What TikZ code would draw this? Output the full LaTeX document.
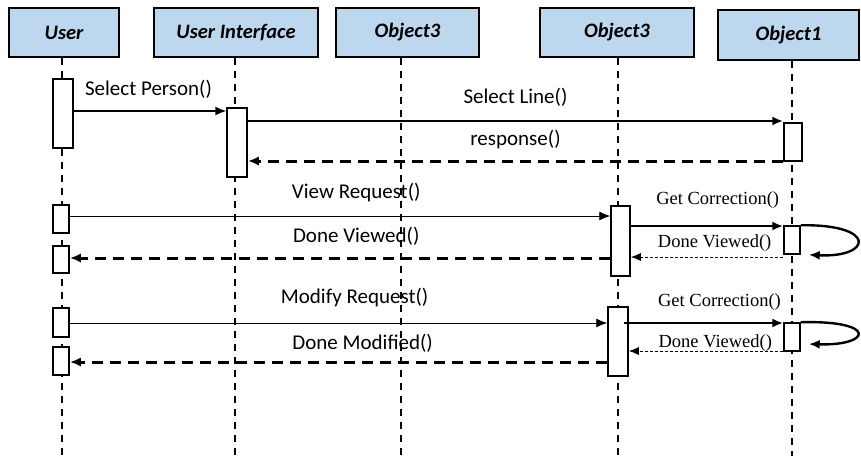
\documentclass[tikz,border=0pt]{standalone}
\usepackage{fontspec}
\setmainfont{Carlito}
\newfontfamily\tnr{Liberation Serif}
\usetikzlibrary{arrows.meta}

\definecolor{headfill}{HTML}{BDD7EE}

\tikzset{
  head/.style={draw=black, line width=1.5pt, fill=headfill, inner sep=0pt,
    minimum height=49pt, font=\fontsize{20.5}{24}\selectfont\bfseries\itshape},
  life/.style={line width=1.5pt, dash pattern=on 7pt off 6pt},
  act/.style={draw=black, line width=1.5pt, fill=white, inner sep=0pt},
  tip/.style={-{Latex[length=11pt,width=9pt]}},
  call/.style={tip, line width=1.5pt},
  callthick/.style={tip, line width=2.4pt},
  callthin/.style={tip, line width=0.9pt},
  reply/.style={tip, line width=3pt, dash pattern=on 11pt off 7pt},
  replythin/.style={-{Latex[length=10pt,width=8pt]}, line width=0.9pt, dash pattern=on 3pt off 2pt},
  loop/.style={-{Latex[length=11pt,width=9pt]}, line width=2.4pt},
  lbl/.style={inner sep=0pt, font=\fontsize{21}{24}\selectfont},
  tlbl/.style={inner sep=0pt, font=\fontsize{18.5}{22}\selectfont\tnr},
}

\begin{document}
\begin{tikzpicture}[x=1pt, y=-1pt]
\useasboundingbox (0,0) rectangle (861,456);

% participant headers
\node[head, minimum width=110pt] (user) at (64,32.5) {User};
\node[head, minimum width=164pt] (ui)   at (236,32.5) {User Interface};
\node[head, minimum width=143pt] (oa)   at (407.5,32.5) {Object3};
\node[head, minimum width=154pt] (ob)   at (617,32.5) {Object3};
\node[head, minimum width=141pt, minimum height=50pt] (oc) at (788.5,35) {Object1};

% lifeline feet
\coordinate (luser) at (62,456);
\coordinate (lui)   at (235,456);
\coordinate (loa)   at (401,456);
\coordinate (lob)   at (618,456);
\coordinate (loc)   at (792,456);

\draw[life] (user.south -| luser) -- (luser);
\draw[life] (ui.south -| lui) -- (lui);
\draw[life] (oa.south -| loa) -- (loa);
\draw[life] (ob.south -| lob) -- (lob);
\draw[life] (oc.south -| loc) -- (loc);

% activation bars
\node[act, minimum width=20pt, minimum height=69pt] (u1) at (63,113.5) {};
\node[act, minimum width=16pt, minimum height=28pt] (u2) at (61,219) {};
\node[act, minimum width=16pt, minimum height=27pt] (u3) at (61,259.5) {};
\node[act, minimum width=16pt, minimum height=29pt] (u4) at (61,322.5) {};
\node[act, minimum width=16pt, minimum height=28pt] (u5) at (61,361) {};
\node[act, minimum width=20pt, minimum height=69pt] (i1) at (237,142.5) {};
\node[act, minimum width=19pt, minimum height=70pt] (b1) at (620.5,241) {};
\node[act, minimum width=20pt, minimum height=69pt] (b2) at (618,341.5) {};
\node[act, minimum width=18pt, minimum height=38pt] (c1) at (793,142) {};
\node[act, minimum width=16pt, minimum height=28pt] (c2) at (792,240) {};
\node[act, minimum width=16pt, minimum height=28pt] (c3) at (792,337) {};

% messages
\draw[call] (u1.east |- 0,111) -- (i1.west |- 0,111)
  node[lbl, pos=0.49, yshift=22pt] (m1) {Select Person()};
\draw[callthick] (i1.east |- 0,121) -- (c1.west |- 0,121)
  node[lbl, midway, yshift=24pt] (m2) {Select Line()};
\draw[reply] (c1.west |- 0,161) -- (i1.east |- 0,161)
  node[lbl, midway, yshift=21pt] (m3) {response()};

\draw[callthin] (u2.east |- 0,216) -- (b1.west |- 0,216)
  node[lbl, pos=0.53, yshift=23pt] (m4) {View Request()};
\draw[reply] (b1.west |- 0,258) -- (u3.east |- 0,258)
  node[lbl, pos=0.47, yshift=22pt] (m5) {Done Viewed()};
\draw[callthick] (b1.east |- 0,226) -- (c2.west |- 0,226)
  node[tlbl, pos=0.57, yshift=26pt] (m6) {Get Correction()};
\draw[loop] (c2.north east) .. controls (878,224) and (872,258) .. ([xshift=8pt]c2.south east)
  coordinate (k1);
\draw[replythin] (c2.west |- 0,257) -- (b1.east |- 0,257)
  node[tlbl, pos=0.45, yshift=14pt] (m7) {Done Viewed()};

\draw[callthin] (u4.east |- 0,323) -- (b2.west |- 0,323)
  node[lbl, pos=0.53, yshift=25pt] (m8) {Modify Request()};
\draw[reply] (b2.west |- 0,362) -- (u5.east |- 0,362)
  node[lbl, pos=0.455, yshift=19pt] (m9) {Done Modified()};
\draw[callthick] ([xshift=-5pt]b2.east |- 0,323) -- (c3.west |- 0,323)
  node[tlbl, pos=0.60, yshift=21pt] (m10) {Get Correction()};
\draw[loop] (c3.north east) .. controls (878,320) and (872,346) .. ([xshift=8pt]c3.east |- 0,344)
  coordinate (k2);
\draw[replythin] (c3.west |- 0,351) -- (b2.east |- 0,351)
  node[tlbl, pos=0.44, yshift=8pt] (m11) {Done Viewed()};
\end{tikzpicture}
\end{document}
